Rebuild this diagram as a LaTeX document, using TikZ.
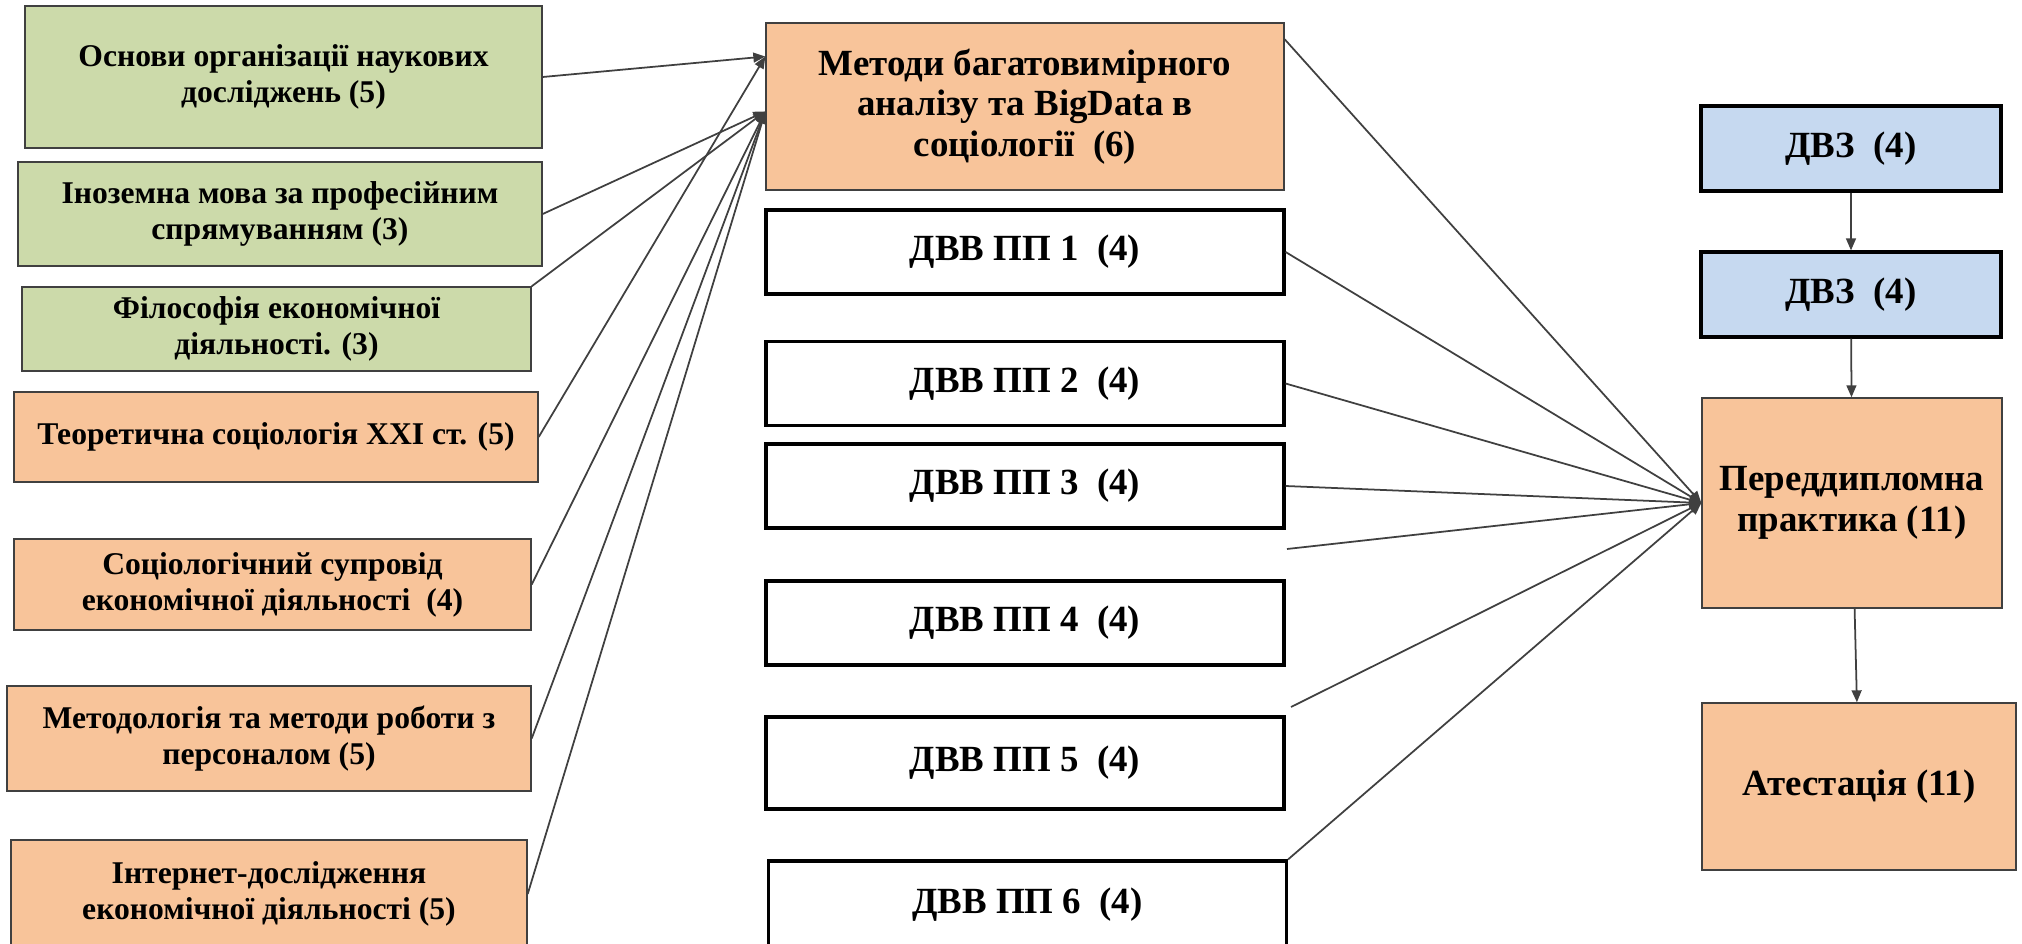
\documentclass[tikz,border=0pt]{standalone}
\usepackage{fontspec}
\setmainfont{Liberation Serif}
\usetikzlibrary{arrows.meta}
\definecolor{subjgreen}{HTML}{CCDAAA}
\definecolor{subjorange}{HTML}{F8C49A}
\definecolor{dvzblue}{HTML}{C6D9F0}
\definecolor{linegray}{HTML}{404040}

\begin{document}
\begin{tikzpicture}[
subj/.style={draw=linegray,line width=0.4pt,align=center,inner sep=0pt,
  font=\fontsize{9}{10.3}\selectfont\bfseries},
core/.style={draw=linegray,line width=0.4pt,align=center,inner sep=0pt,
  font=\fontsize{10.5}{11.6}\selectfont\bfseries},
dvv/.style={core,draw=black,line width=0.9pt,minimum width=5.18cm,minimum height=0.84cm},
dvz/.style={core,draw=black,line width=0.9pt,fill=dvzblue,minimum width=3cm,minimum height=0.85cm},
link/.style={linegray,line width=0.5pt,-{Triangle[length=3.4pt,width=2.8pt]}},
]
\useasboundingbox (0,0) rectangle (20.22,-9.44);

% left column
\node[subj,fill=subjgreen,minimum width=5.17cm,minimum height=1.42cm] (osnovy) at (2.835,-0.77)
  {Основи організації наукових\\досліджень (5)};
\node[subj,fill=subjgreen,minimum width=5.24cm,minimum height=1.04cm] (mova) at (2.80,-2.14)
  {Іноземна мова за професійним\\спрямуванням (3)};
\node[subj,fill=subjgreen,minimum width=5.09cm,minimum height=0.84cm] (filos) at (2.765,-3.29)
  {Філософія економічної\\діяльності. (3)};
\node[subj,fill=subjorange,minimum width=5.24cm,minimum height=0.90cm] (teor) at (2.76,-4.37)
  {Теоретична соціологія XXI ст. (5)};
\node[subj,fill=subjorange,minimum width=5.17cm,minimum height=0.91cm] (suprovid) at (2.725,-5.845)
  {Соціологічний супровід\\економічної діяльності~ (4)};
\node[subj,fill=subjorange,minimum width=5.24cm,minimum height=1.05cm] (personal) at (2.69,-7.385)
  {Методологія та методи роботи з\\персоналом (5)};
\node[subj,fill=subjorange,minimum width=5.16cm,minimum height=1.08cm] (internet) at (2.69,-8.94)
  {Інтернет-дослідження\\економічної діяльності (5)};

% middle column
\node[core,fill=subjorange,minimum width=5.18cm,minimum height=1.67cm] (bigdata) at (10.25,-1.065)
  {Методи багатовимірного\\аналізу та BigData в\\соціології~ (6)};
\node[dvv] (dvv1) at (10.25,-2.52) {ДВВ ПП 1~ (4)};
\node[dvv] (dvv2) at (10.25,-3.835) {ДВВ ПП 2~ (4)};
\node[dvv] (dvv3) at (10.25,-4.86) {ДВВ ПП 3~ (4)};
\node[dvv] (dvv4) at (10.25,-6.23) {ДВВ ПП 4~ (4)};
\node[dvv,minimum height=0.92cm] (dvv5) at (10.25,-7.63) {ДВВ ПП 5~ (4)};
\node[dvv,minimum height=0.88cm] (dvv6) at (10.275,-9.05) {ДВВ ПП 6~ (4)};

% right column
\node[dvz] (dvz1) at (18.51,-1.485) {ДВЗ~ (4)};
\node[dvz] (dvz2) at (18.51,-2.945) {ДВЗ~ (4)};
\node[core,fill=subjorange,minimum width=3cm,minimum height=2.10cm] (praktyka) at (18.52,-5.03)
  {Переддипломна\\практика (11)};
\node[core,fill=subjorange,minimum width=3.14cm,minimum height=1.67cm] (atest) at (18.59,-7.865)
  {Атестація (11)};

\coordinate (bdup) at ([yshift=5mm]bigdata.west);
\coordinate (bdlo) at ([yshift=-0.5mm]bigdata.west);
\coordinate (free1) at (12.87,-5.49);
\coordinate (free2) at (12.91,-7.07);

\draw[link] (osnovy.east) -- (bdup);
\draw[link] (teor.east) -- (bdup);
\foreach \s in {mova.east,filos.north east,suprovid.east,personal.east,internet.east}
  \draw[link] (\s) -- (bdlo);

\foreach \s in {dvv1.east,dvv2.east,dvv3.east,free1,free2,dvv6.north east}
  \draw[link] (\s) -- (praktyka.west);
\draw[link] ([yshift=-1.7mm]bigdata.north east) -- (praktyka.west);

\draw[link] (dvz1) -- (dvz2);
\draw[link] (dvz2) -- (praktyka);
\draw[link] (praktyka) -- (atest);
\end{tikzpicture}
\end{document}
